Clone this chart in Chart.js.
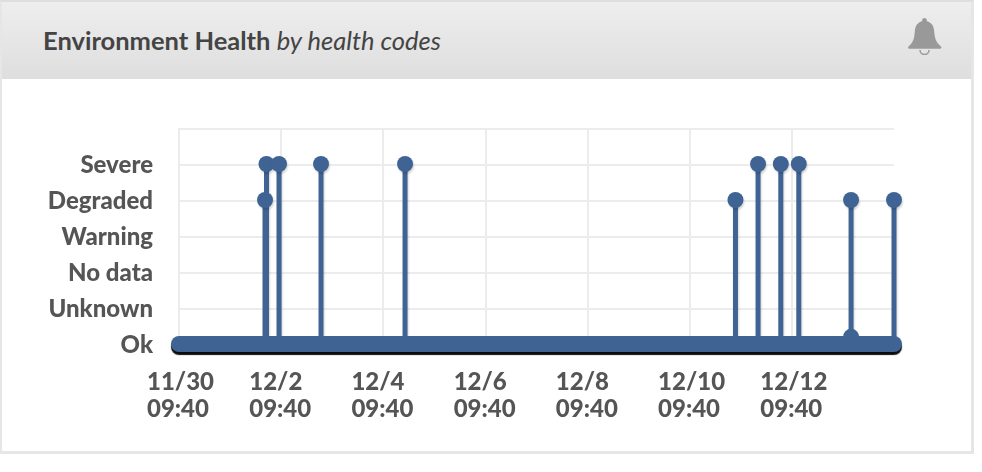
<!DOCTYPE html>
<html>
<head>
<meta charset="utf-8">
<style>
html,body{margin:0;padding:0;background:#fff;width:982px;height:472px;overflow:hidden}
#card{position:absolute;left:0;top:0;width:969px;height:449px;border:2px solid #e6e6e6;border-top-color:#dedede;border-bottom-width:3px;border-right-width:3px;box-sizing:content-box;background:#fff}
#head{position:absolute;left:0;top:0;right:0;height:77px;background:linear-gradient(#eeeeee,#dedede)}
#title{position:absolute;left:43px;top:25px;font:700 25.5px/30px Lato,sans-serif;color:#444;white-space:nowrap}
#title i{font-weight:400}
#bell{position:absolute;left:907px;top:17px}
#c{position:absolute;left:0;top:0}
</style>
<script src="https://cdn.jsdelivr.net/npm/chart.js@4"></script>
</head>
<body>
<div id="card"><div id="head"></div></div>
<div id="title">Environment Health <i>by health codes</i></div>
<svg id="bell" width="35" height="38" viewBox="0 0 35 38"><path fill="#999" d="M17.500 1c1.400 0 2.400 1 2.400 2.400v.9c5 1.300 6.900 5 7.300 10 .5 6 1.300 10.800 6.800 15.200.800.700.300 2.200-.7 2.200H2.200c-1 0-1.500-1.500-.7-2.200C7 25.100 7.300 20.300 7.800 14.300c.4-5 2.300-8.700 7.300-10v-.9C15.100 2 16.100 1 17.500 1z"/><path fill="none" stroke="#999" stroke-width="1.500" d="M13 33a4.500 4.500 0 0 0 9 0"/></svg>
<canvas id="c" width="982" height="472"></canvas>
<script>
const yLabels = ["Ok","Unknown","No data","Warning","Degraded","Severe"];
const xLabels = [["11/30","09:40"],["12/2","09:40"],["12/4","09:40"],["12/6","09:40"],["12/8","09:40"],["12/10","09:40"],["12/12","09:40"]];
const spikeDays   = [1.683,1.712,1.957,2.779,4.423,10.888,11.33,11.775,12.127,13.15,13.15,13.99];
const spikeLevels = [4,5,5,5,5,4,5,5,5,0.2,4,4];
const baseDays = [0,13.99];
const baseLevels = [0,0];

const spikePts = [];
spikeDays.forEach((d,i)=>{spikePts.push({x:d,y:0},{x:d,y:spikeLevels[i]},{x:d,y:0});});
const basePts = baseDays.map((d,i)=>({x:d,y:baseLevels[i]}));

const shadowPlugin = {
  id:'shadow',
  beforeDatasetDraw(chart,args){
    const c=chart.ctx; c.save();
    c.translate(0,-1);
    if(args.index===0){c.shadowColor='rgba(0,0,0,.95)';c.shadowOffsetY=3;c.shadowOffsetX=0;c.shadowBlur=1;}
    else{c.shadowColor='rgba(0,0,0,.16)';c.shadowOffsetY=2;c.shadowOffsetX=1;c.shadowBlur=2;}
  },
  afterDatasetDraw(chart){chart.ctx.restore();}
};

new Chart(document.getElementById('c'),{
  type:'line',
  data:{datasets:[
    {data:basePts,borderColor:'#3f6494',backgroundColor:'#3f6494',borderWidth:16,borderCapStyle:'round',pointRadius:0,tension:0,clip:false},
    {data:spikePts,borderColor:'#3f6494',backgroundColor:'#3f6494',borderWidth:5,pointBorderWidth:0,tension:0,clip:false,
     pointBackgroundColor:'#3f6494',pointRadius:ctx=>ctx.parsed&&ctx.parsed.y>0?8:0}
  ]},
  options:{
    responsive:false,animation:false,
    layout:{padding:{left:0,right:88,top:129,bottom:0}},
    plugins:{legend:{display:false},title:{display:false},tooltip:{enabled:false}},
    scales:{
      x:{type:'linear',min:0,max:13.99,
        afterFit(s){s.height=127;},
        grid:{color:'#ececec',lineWidth:2,drawTicks:false},
        border:{color:'#ececec',width:2},
        ticks:{stepSize:2,includeBounds:false,autoSkip:false,maxRotation:0,minRotation:0,align:'start',labelOffset:-32,padding:23,
          color:'#555',font:{family:'Lato',size:24,weight:'900',lineHeight:1.15},
          callback:(v,i)=>xLabels[i]}
      },
      y:{min:0,max:6,
        afterFit(s){s.width=179;},
        grid:{color:'#ececec',lineWidth:2,drawTicks:false},
        border:{color:'#ececec',width:2},
        ticks:{stepSize:1,includeBounds:false,padding:26,color:'#555',font:{family:'Lato',size:24,weight:'900'},
          callback:v=>yLabels[v]||''}
      }
    }
  },
  plugins:[shadowPlugin]
});
</script>
</body>
</html>
